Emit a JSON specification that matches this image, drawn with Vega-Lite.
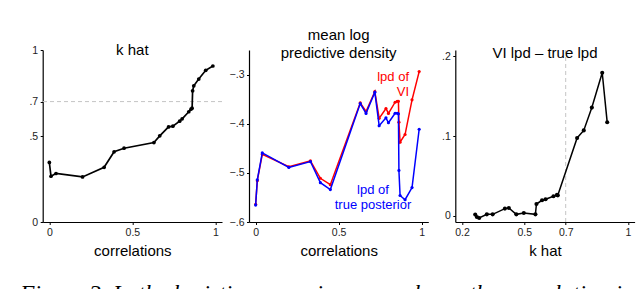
{
  "$schema": "https://vega.github.io/schema/vega-lite/v6.json",
  "autosize": {"type": "none"},
  "padding": {"left": 42.7, "top": 50, "right": 597.3, "bottom": 239},
  "background": "white",
  "title": {
    "text": "Figure 3. In the logistic regression example, as the correlation in",
    "orient": "bottom", "anchor": "start", "frame": "bounds",
    "font": "Liberation Serif", "fontStyle": "italic", "fontWeight": "normal",
    "fontSize": 23.6, "color": "black", "baseline": "alphabetic", "offset": 42, "dx": -9
  },
  "datasets": {
    "one": [{"n": 1}],
    "kh": [
      {"i": 1, "c": 0.0, "k": 0.346}, {"i": 2, "c": 0.01, "k": 0.266}, {"i": 3, "c": 0.04, "k": 0.282},
      {"i": 4, "c": 0.2, "k": 0.262}, {"i": 5, "c": 0.33, "k": 0.318}, {"i": 6, "c": 0.39, "k": 0.408},
      {"i": 7, "c": 0.45, "k": 0.429}, {"i": 8, "c": 0.63, "k": 0.462}, {"i": 9, "c": 0.665, "k": 0.501},
      {"i": 10, "c": 0.718, "k": 0.553}, {"i": 11, "c": 0.744, "k": 0.557}, {"i": 12, "c": 0.785, "k": 0.586},
      {"i": 13, "c": 0.8, "k": 0.6}, {"i": 14, "c": 0.84, "k": 0.641}, {"i": 15, "c": 0.853, "k": 0.656},
      {"i": 16, "c": 0.86, "k": 0.662}, {"i": 17, "c": 0.863, "k": 0.763}, {"i": 18, "c": 0.87, "k": 0.792},
      {"i": 19, "c": 0.9, "k": 0.831}, {"i": 20, "c": 0.942, "k": 0.882}, {"i": 21, "c": 0.985, "k": 0.907}
    ],
    "lpd": [
      {"i": 1, "c": 0.0, "s": "VI", "v": -0.564}, {"i": 2, "c": 0.01, "s": "VI", "v": -0.516},
      {"i": 3, "c": 0.04, "s": "VI", "v": -0.4625}, {"i": 4, "c": 0.2, "s": "VI", "v": -0.4875},
      {"i": 5, "c": 0.33, "s": "VI", "v": -0.4757}, {"i": 6, "c": 0.39, "s": "VI", "v": -0.511},
      {"i": 7, "c": 0.45, "s": "VI", "v": -0.524}, {"i": 8, "c": 0.63, "s": "VI", "v": -0.3574},
      {"i": 9, "c": 0.665, "s": "VI", "v": -0.375}, {"i": 10, "c": 0.718, "s": "VI", "v": -0.3345},
      {"i": 11, "c": 0.744, "s": "VI", "v": -0.389}, {"i": 12, "c": 0.785, "s": "VI", "v": -0.369},
      {"i": 13, "c": 0.8, "s": "VI", "v": -0.379}, {"i": 14, "c": 0.84, "s": "VI", "v": -0.3563},
      {"i": 15, "c": 0.853, "s": "VI", "v": -0.3543}, {"i": 16, "c": 0.86, "s": "VI", "v": -0.3543},
      {"i": 17, "c": 0.863, "s": "VI", "v": -0.3969}, {"i": 18, "c": 0.87, "s": "VI", "v": -0.4376},
      {"i": 19, "c": 0.9, "s": "VI", "v": -0.422}, {"i": 20, "c": 0.942, "s": "VI", "v": -0.3514},
      {"i": 21, "c": 0.985, "s": "VI", "v": -0.2939},
      {"i": 1, "c": 0.0, "s": "true", "v": -0.5656}, {"i": 2, "c": 0.01, "s": "true", "v": -0.5142},
      {"i": 3, "c": 0.04, "s": "true", "v": -0.4595}, {"i": 4, "c": 0.2, "s": "true", "v": -0.489},
      {"i": 5, "c": 0.33, "s": "true", "v": -0.477}, {"i": 6, "c": 0.39, "s": "true", "v": -0.52},
      {"i": 7, "c": 0.45, "s": "true", "v": -0.534}, {"i": 8, "c": 0.63, "s": "true", "v": -0.359},
      {"i": 9, "c": 0.665, "s": "true", "v": -0.379}, {"i": 10, "c": 0.718, "s": "true", "v": -0.3361},
      {"i": 11, "c": 0.744, "s": "true", "v": -0.404}, {"i": 12, "c": 0.785, "s": "true", "v": -0.388},
      {"i": 13, "c": 0.8, "s": "true", "v": -0.398}, {"i": 14, "c": 0.84, "s": "true", "v": -0.3787},
      {"i": 15, "c": 0.853, "s": "true", "v": -0.3787}, {"i": 16, "c": 0.86, "s": "true", "v": -0.3799},
      {"i": 17, "c": 0.863, "s": "true", "v": -0.4951}, {"i": 18, "c": 0.87, "s": "true", "v": -0.546},
      {"i": 19, "c": 0.9, "s": "true", "v": -0.5547}, {"i": 20, "c": 0.942, "s": "true", "v": -0.53},
      {"i": 21, "c": 0.985, "s": "true", "v": -0.4112}
    ],
    "diff": [
      {"k": 0.264, "d": 0.0013}, {"k": 0.272, "d": -0.0018}, {"k": 0.283, "d": -0.003},
      {"k": 0.32, "d": 0.0016}, {"k": 0.348, "d": 0.0016}, {"k": 0.407, "d": 0.0088},
      {"k": 0.426, "d": 0.0096}, {"k": 0.462, "d": 0.0016}, {"k": 0.498, "d": 0.0033},
      {"k": 0.554, "d": 0.0016}, {"k": 0.559, "d": 0.0146}, {"k": 0.586, "d": 0.0193},
      {"k": 0.603, "d": 0.0206}, {"k": 0.641, "d": 0.0243}, {"k": 0.658, "d": 0.026},
      {"k": 0.662, "d": 0.0255}, {"k": 0.755, "d": 0.0975}, {"k": 0.787, "d": 0.107},
      {"k": 0.826, "d": 0.1357}, {"k": 0.876, "d": 0.1794}, {"k": 0.9, "d": 0.1172}
    ]
  },
  "spacing": 26.3,
  "bounds": "flush",
  "hconcat": [
    {
      "width": 179.3, "height": 172,
      "title": {"text": "k hat", "frame": "group", "baseline": "middle", "offset": -20},
      "layer": [
        {
          "data": {"name": "one"},
          "mark": {"type": "rule", "strokeDash": [4, 3], "color": "#c4c4c4", "strokeWidth": 1},
          "encoding": {
            "y": {"datum": 0.7, "type": "quantitative", "scale": {"domain": [0, 1], "nice": false, "zero": false}, "title": null}
          }
        },
        {
          "data": {"name": "kh"},
          "mark": {"type": "line", "color": "black", "strokeWidth": 1.7, "point": {"filled": true, "size": 14, "color": "black"}},
          "encoding": {
            "x": {"field": "c", "type": "quantitative", "scale": {"domain": [-0.04, 1.04], "nice": false, "zero": false},
                  "axis": {"values": [0, 0.5, 1], "labelExpr": "toString(datum.value)"}, "title": "correlations"},
            "y": {"field": "k", "type": "quantitative", "scale": {"domain": [0, 1], "nice": false, "zero": false},
                  "axis": {"values": [0, 0.5, 0.7, 1], "labelExpr": "replace(toString(datum.value), '0.', '.')"}, "title": null},
            "order": {"field": "i", "type": "quantitative"}
          }
        }
      ]
    },
    {
      "width": 179.3, "height": 172,
      "title": {"text": ["mean log", "predictive density"], "frame": "group", "baseline": "bottom", "offset": -26, "lineHeight": 18},
      "layer": [
        {
          "data": {"name": "lpd"},
          "transform": [{"filter": "datum.s == 'VI'"}],
          "mark": {"type": "line", "color": "#ff0000", "strokeWidth": 1.5, "point": {"filled": true, "size": 10, "color": "#ff0000"}},
          "encoding": {
            "x": {"field": "c", "type": "quantitative", "scale": {"domain": [-0.04, 1.04], "nice": false, "zero": false},
                  "axis": {"values": [0, 0.5, 1], "labelExpr": "toString(datum.value)"}, "title": "correlations"},
            "y": {"field": "v", "type": "quantitative", "scale": {"domain": [-0.6, -0.25], "nice": false, "zero": false},
                  "axis": {"values": [-0.6, -0.5, -0.4, -0.3], "labelExpr": "replace(replace(toString(datum.value), '0.', '.'), '-', '\u2212')"}, "title": null},
            "order": {"field": "i", "type": "quantitative"}
          }
        },
        {
          "data": {"name": "lpd"},
          "transform": [{"filter": "datum.s == 'true'"}],
          "mark": {"type": "line", "color": "#0000ff", "strokeWidth": 1.5, "point": {"filled": true, "size": 10, "color": "#0000ff"}},
          "encoding": {
            "x": {"field": "c", "type": "quantitative"},
            "y": {"field": "v", "type": "quantitative"},
            "order": {"field": "i", "type": "quantitative"}
          }
        },
        {
          "data": {"name": "one"},
          "mark": {"type": "text", "text": ["lpd of", "VI"], "align": "right", "baseline": "middle", "lineHeight": 15.3, "fontSize": 13, "color": "#ff0000", "font": "Liberation Sans"},
          "encoding": {
            "x": {"datum": 0.924, "type": "quantitative"},
            "y": {"datum": -0.304, "type": "quantitative"}
          }
        },
        {
          "data": {"name": "one"},
          "mark": {"type": "text", "text": ["lpd of", "true posterior"], "align": "center", "baseline": "middle", "lineHeight": 15, "fontSize": 13, "color": "#0000ff", "font": "Liberation Sans"},
          "encoding": {
            "x": {"datum": 0.707, "type": "quantitative"},
            "y": {"datum": -0.5358, "type": "quantitative"}
          }
        }
      ]
    },
    {
      "width": 179.3, "height": 172,
      "title": {"text": "VI lpd \u2013 true lpd", "frame": "group", "baseline": "middle", "offset": -18.4},
      "layer": [
        {
          "data": {"name": "one"},
          "mark": {"type": "rule", "strokeDash": [4, 3], "color": "#c4c4c4", "strokeWidth": 1},
          "encoding": {
            "x": {"datum": 0.7, "type": "quantitative", "scale": {"domain": [0.168, 1.032], "nice": false, "zero": false}, "title": null}
          }
        },
        {
          "data": {"name": "diff"},
          "mark": {"type": "line", "color": "black", "strokeWidth": 1.5, "point": {"filled": true, "size": 17, "color": "black"}},
          "encoding": {
            "x": {"field": "k", "type": "quantitative", "scale": {"domain": [0.168, 1.032], "nice": false, "zero": false},
                  "axis": {"values": [0.2, 0.5, 0.7, 1], "labelExpr": "toString(datum.value)"}, "title": "k hat"},
            "y": {"field": "d", "type": "quantitative", "scale": {"domain": [-0.008, 0.208], "nice": false, "zero": false},
                  "axis": {"values": [0, 0.1, 0.2], "labelExpr": "replace(toString(datum.value), '0.', '.')"}, "title": null}
          }
        }
      ]
    }
  ],
  "config": {
    "font": "Liberation Sans",
    "view": {"stroke": null},
    "axis": {
      "grid": false, "domainColor": "black", "domainWidth": 1.2, "tickColor": "black", "tickSize": 2.5, "tickWidth": 1,
      "labelFont": "Liberation Sans", "labelFontSize": 10.5, "labelColor": "#222222", "labelPadding": 2.5,
      "titleFont": "Liberation Sans", "titleFontSize": 15, "titleFontWeight": "normal", "titleColor": "black", "titlePadding": 6
    },
    "title": {"font": "Liberation Sans", "fontSize": 15, "fontWeight": "normal", "color": "black", "lineHeight": 18}
  }
}
